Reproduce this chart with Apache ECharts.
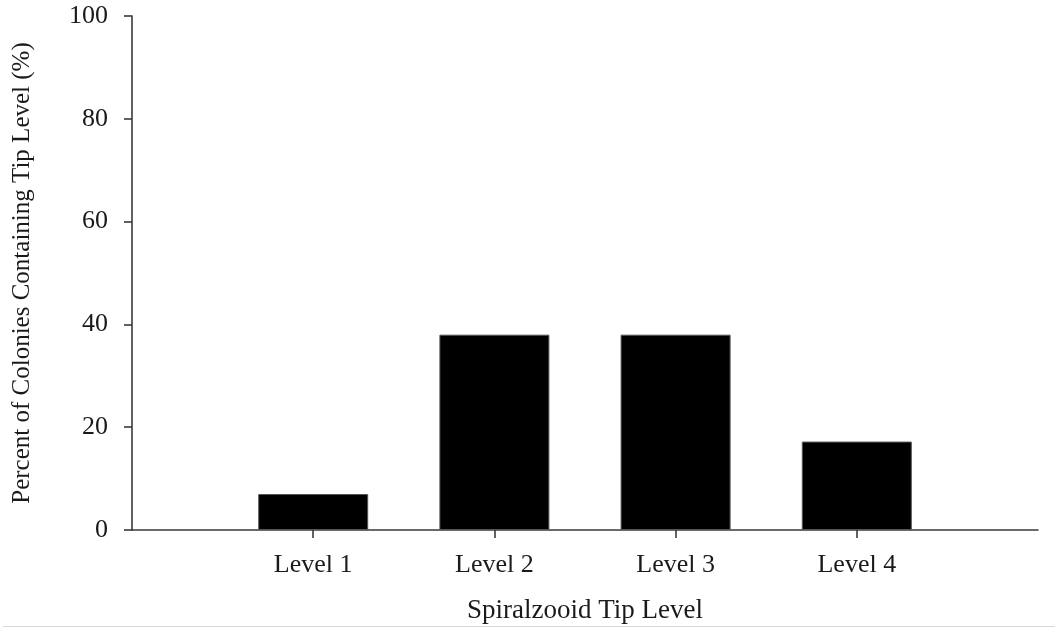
<!DOCTYPE html>
<html>
<head>
<meta charset="utf-8">
<script src="https://cdn.jsdelivr.net/npm/echarts@6/dist/echarts.min.js"></script>
<style>
html,body{margin:0;padding:0;background:#fff;}
#chart{width:1055px;height:630px;}
</style>
</head>
<body>
<div id="chart"></div>
<script>
var categories = ['Level 1', 'Level 2', 'Level 3', 'Level 4'];
var percents = [7, 38, 38, 17.2];
var yTicks = [0, 20, 40, 60, 80, 100];

// pad with empty slots at both ends so bars sit between the axis ends
var axisCats = [''].concat(categories).concat(['']);
var barData = [null].concat(percents).concat([null]);

var font = '"Liberation Serif", "Times New Roman", serif';
var chart = echarts.init(document.getElementById('chart'));
chart.setOption({
  animation: false,
  backgroundColor: '#fff',
  textStyle: {fontFamily: font},
  grid: {left: 132, right: 17, top: 16, bottom: 100, containLabel: false, outerBoundsMode: 'none'},
  xAxis: {
    type: 'category',
    data: axisCats,
    boundaryGap: false,
    name: 'Spiralzooid Tip Level',
    nameLocation: 'middle',
    nameGap: 67,
    nameTextStyle: {fontFamily: font, fontSize: 27, color: '#1a1a1a'},
    axisLine: {lineStyle: {color: '#3a3a3a', width: 1.6}},
    axisTick: {
      show: true, length: 8, inside: false,
      interval: function (i) { return i > 0 && i < axisCats.length - 1; },
      lineStyle: {color: '#3a3a3a', width: 1.6}
    },
    axisLabel: {
      interval: 0, margin: 22,
      fontFamily: font, fontSize: 26, color: '#1a1a1a'
    },
    splitLine: {show: false}
  },
  yAxis: {
    type: 'value',
    min: yTicks[0],
    max: yTicks[yTicks.length - 1],
    interval: yTicks[1] - yTicks[0],
    name: 'Percent of Colonies Containing Tip Level (%)',
    nameLocation: 'middle',
    nameGap: 97,
    nameRotate: 90,
    nameTextStyle: {fontFamily: font, fontSize: 25, color: '#1a1a1a'},
    axisLine: {show: true, lineStyle: {color: '#3a3a3a', width: 1.6}},
    axisTick: {show: true, length: 8, inside: false, lineStyle: {color: '#3a3a3a', width: 1.6}},
    axisLabel: {margin: 24, fontFamily: font, fontSize: 26, color: '#1a1a1a'},
    splitLine: {show: false}
  },
  series: [{
    type: 'bar',
    data: barData,
    barWidth: 110,
    itemStyle: {color: '#000', borderColor: '#555', borderWidth: 1}
  }],
  graphic: [{
    type: 'line',
    shape: {x1: 3, y1: 626.5, x2: 1055, y2: 626.5},
    style: {stroke: '#d8d8d8', lineWidth: 1}
  }]
});
</script>
</body>
</html>
